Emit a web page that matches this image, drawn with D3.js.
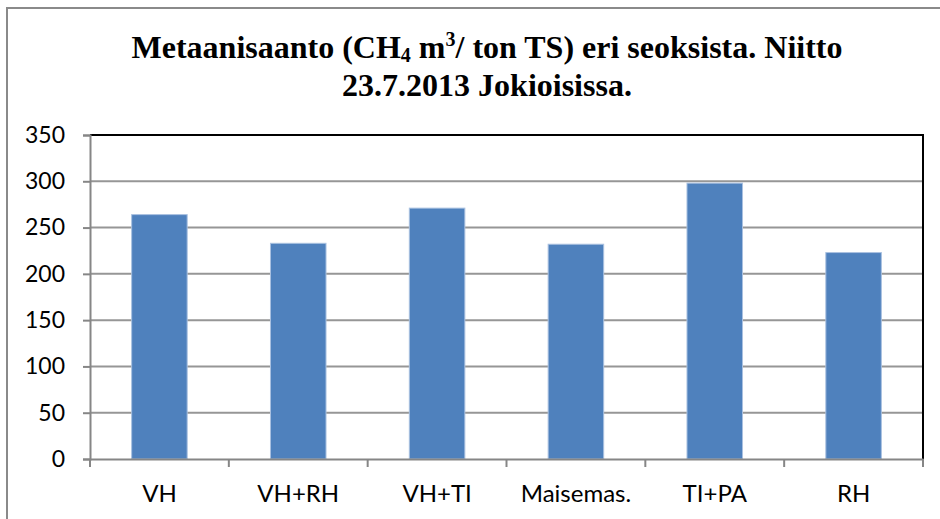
<!DOCTYPE html>
<html>
<head>
<meta charset="utf-8">
<script src="https://cdn.jsdelivr.net/npm/d3@7"></script>
<style>
  body { margin: 0; background: #fff; }
</style>
</head>
<body>
<div id="chart"></div>
<script>
// DATA
const categories = ["VH", "VH+RH", "VH+TI", "Maisemas.", "TI+PA", "RH"];
const yields = [264, 233, 271, 232, 298, 223];
const yTicks = [0, 50, 100, 150, 200, 250, 300, 350];

const W = 940, H = 519;
const plot = { left: 90, right: 923, top: 135, bottom: 459 };
const labelFont = "Lato, 'Open Sans', sans-serif";
const titleFont = "'Liberation Serif', 'Times New Roman', serif";

const svg = d3.select("#chart")
    .append("svg")
    .attr("width", W)
    .attr("height", H);

// outer chart border (only left/top visible in the picture)
svg.append("path")
    .attr("d", `M7,${H} L7,8 L${W},8`)
    .attr("fill", "none")
    .attr("stroke", "#8a8a8a")
    .attr("stroke-width", 2);

// scales
const x = d3.scaleBand()
    .domain(categories)
    .range([plot.left, plot.right])
    .paddingInner(0.6)
    .paddingOuter(0.3);

const xEdge = d3.scaleLinear()
    .domain([0, categories.length])
    .range([plot.left, plot.right]);

const y = d3.scaleLinear()
    .domain([0, 350])
    .range([plot.bottom, plot.top]);

// gridlines
svg.append("g")
    .selectAll("line")
    .data(yTicks.filter(d => d > 0 && d < 350))
    .join("line")
    .attr("x1", plot.left)
    .attr("x2", plot.right)
    .attr("y1", d => y(d))
    .attr("y2", d => y(d))
    .attr("stroke", "#969696")
    .attr("stroke-width", 2);

// top + right plot border
svg.append("path")
    .attr("d", `M${plot.left},${y(350)} L${plot.right},${y(350)} L${plot.right},${plot.bottom}`)
    .attr("fill", "none")
    .attr("stroke", "#000")
    .attr("stroke-width", 2);

// bars
svg.append("g")
    .selectAll("rect")
    .data(categories.map((c, i) => ({ c, v: yields[i] })))
    .join("rect")
    .attr("x", d => x(d.c))
    .attr("width", x.bandwidth())
    .attr("y", d => y(d.v))
    .attr("height", d => y(0) - y(d.v))
    .attr("fill", "#4f81bd")
    .attr("stroke", "#a9c1e0")
    .attr("stroke-width", 1);

// y axis
const yAxis = svg.append("g")
    .attr("transform", `translate(${plot.left},0)`)
    .call(d3.axisLeft(y).tickValues(yTicks).tickSize(7).tickPadding(18).tickFormat(d3.format("d")));
yAxis.select(".domain").attr("stroke", "#868686").attr("stroke-width", 2);
yAxis.selectAll(".tick line").attr("stroke", "#868686").attr("stroke-width", 2);
yAxis.selectAll(".tick text")
    .attr("font-family", labelFont)
    .attr("font-size", 23)
    .attr("fill", "#000");

// x axis
const xAxis = svg.append("g")
    .attr("transform", `translate(0,${plot.bottom})`)
    .call(d3.axisBottom(x).tickSize(0).tickPadding(26));
xAxis.select(".domain").attr("stroke", "#868686").attr("stroke-width", 2);
xAxis.selectAll(".tick text")
    .attr("font-family", labelFont)
    .attr("font-size", 24)
    .attr("fill", "#000");

svg.append("g")
    .selectAll("line")
    .data(d3.range(categories.length + 1))
    .join("line")
    .attr("x1", d => xEdge(d))
    .attr("x2", d => xEdge(d))
    .attr("y1", plot.bottom)
    .attr("y2", plot.bottom + 8)
    .attr("stroke", "#868686")
    .attr("stroke-width", 2);

// title
const title = svg.append("text")
    .attr("font-family", titleFont)
    .attr("font-weight", "bold")
    .attr("font-size", 32)
    .attr("text-anchor", "middle")
    .attr("x", 487)
    .attr("y", 58);
title.append("tspan").text("Metaanisaanto (CH");
title.append("tspan").attr("font-size", 20).attr("dy", 4).text("4");
title.append("tspan").attr("dy", -4).text(" m");
title.append("tspan").attr("font-size", 20).attr("dy", -12).text("3");
title.append("tspan").attr("dy", 12).text("/ ton TS) eri seoksista. Niitto");

svg.append("text")
    .attr("font-family", titleFont)
    .attr("font-weight", "bold")
    .attr("font-size", 32)
    .attr("text-anchor", "middle")
    .attr("x", 487)
    .attr("y", 96)
    .text("23.7.2013 Jokioisissa.");
</script>
</body>
</html>
